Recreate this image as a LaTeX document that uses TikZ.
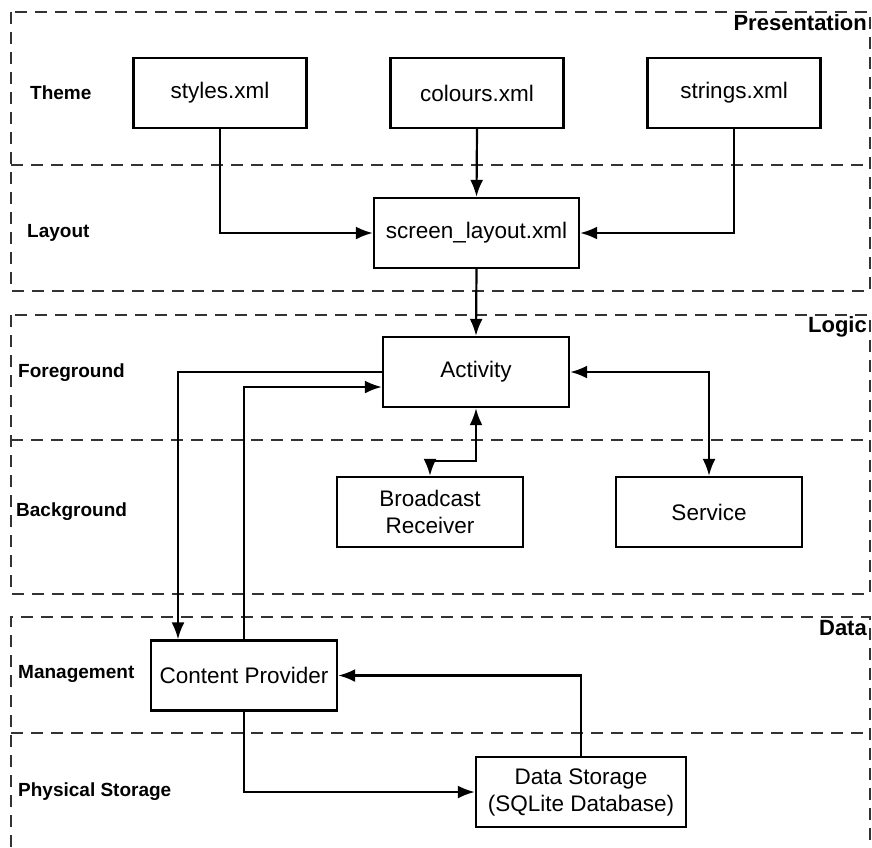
\documentclass[tikz,border=0pt]{standalone}
\usepackage{fontspec}
\setmainfont{Liberation Sans}
\usepackage{tikz}
\usetikzlibrary{calc}
\usetikzlibrary{arrows.meta}
\usetikzlibrary{positioning}
\tikzstyle{box} = [rectangle, draw = black, line width = 2.4pt, minimum width = 186pt, minimum height = 70pt, inner sep = 2pt, align = center, font = \fontsize{22.5}{27}\selectfont]
\tikzstyle{lane} = [draw = black!80, line width = 1.3pt, dash pattern = on 12pt off 8pt]
\tikzstyle{lbl} = [draw=none, inner sep = 0, anchor = west, font = \bfseries\fontsize{19}{22}\selectfont]
\tikzstyle{ttl} = [draw=none, inner sep = 0, anchor = east, font = \bfseries\fontsize{22}{26}\selectfont]
\tikzstyle{con} = [-{Latex[length=17pt, width=13pt]}, line width = 2.2pt]
\tikzstyle{dcon} = [{Latex[length=17pt, width=13pt]}-{Latex[length=17pt, width=13pt]}, line width = 2.2pt]

\begin{document}
\begin{tikzpicture}[x=1pt, y=-1pt]
\useasboundingbox (0,0) rectangle (872,847);
% lanes
\draw [lane] (11,12) rectangle (870,291);
\draw [lane] (11,165) -- (870,165);
\draw [lane] (11,315) rectangle (870,594);
\draw [lane] (11,440) -- (870,440);
\draw [lane] (11,847) |- (870,617) -- (870,847);
\draw [lane] (11,733) -- (870,733);
\node [ttl] (P) at (867,23) {Presentation};
\node [ttl] (Lg) at (867,327) {Logic};
\node [ttl] (D) at (867,628) {Data};
\node [lbl] (theme) at (30,93) {Theme};
\node [lbl] (layout) at (27,233) {Layout};
\node [lbl] (fg) at (18,373) {Foreground};
\node [lbl] (bg) at (16,512) {Background};
\node [lbl] (mgmt) at (18,674) {Management};
\node [lbl] (phys) at (18,792) {Physical Storage};
% boxes
\node [box, minimum width = 173pt] (styles) at (220,93) {styles.xml};
\node [box, minimum width = 173pt] (colours) at (477,93) {colours.xml};
\node [box, minimum width = 173pt] (strings) at (734,93) {strings.xml};
\node [box, minimum width = 205pt] (screen) at (476.5,233) {screen\_layout.xml};
\node [box] (activity) at (476,372) {Activity};
\node [box] (bcast) at (430,512) {Broadcast\\Receiver};
\node [box] (service) at (709,512) {Service};
\node [box] (cp) at (244,675.5) {Content Provider};
\node [box, minimum width = 210pt] (dstore) at (581,792) {Data Storage\\(SQLite Database)};
% connectors
\draw [con] (styles.south) |- (screen.west);
\draw [con] (colours.south) -- (screen.north);
\draw [con] (strings.south) |- (screen.east);
\draw [con] (screen.south) -- (activity.north);
\draw [con] (activity.west) -| ([xshift=-66pt]cp.north);
\draw [con] (cp.north) |- ([yshift=-15pt]activity.west);
\draw [dcon] (activity.south) -- ++(0,53) -| (bcast.north);
\draw [dcon] (activity.east) -| (service.north);
\draw [con] (cp.south) |- (dstore.west);
\draw [con] (dstore.north) |- (cp.east);
\end{tikzpicture}
\end{document}
